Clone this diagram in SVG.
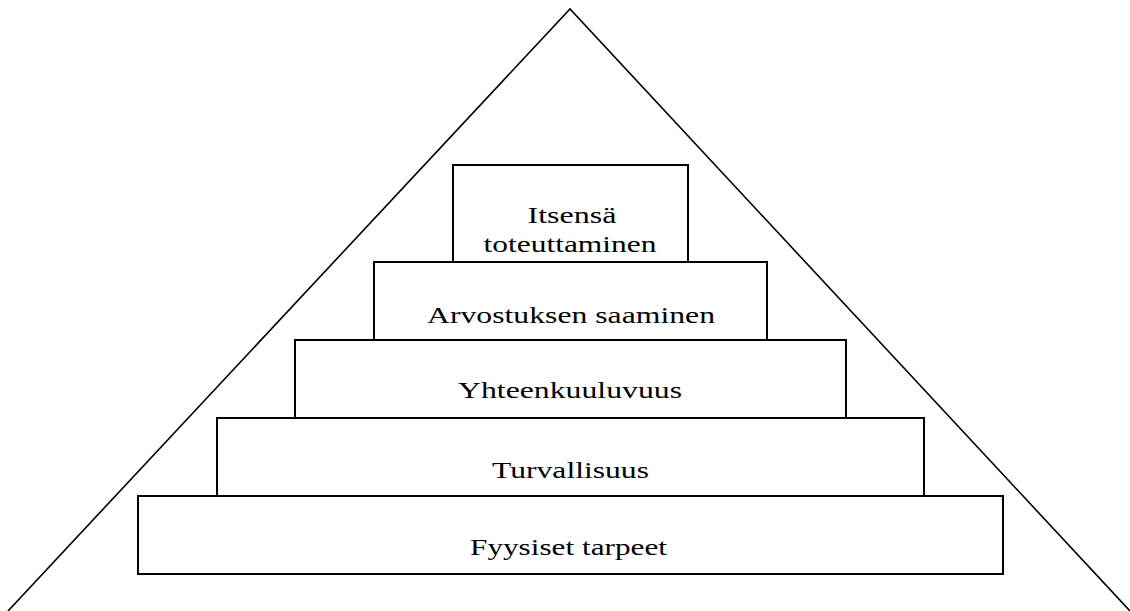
<svg xmlns="http://www.w3.org/2000/svg" width="1130" height="611" viewBox="0 0 1130 611">
<style>
.box{fill:#fff;stroke:#000;stroke-width:2}
.tri{fill:none;stroke:#000;stroke-width:1.6}
.lbl{font-family:"Liberation Serif","Times New Roman",serif;font-size:22.5px;fill:#000}
</style>
<rect width="1130" height="611" fill="#fff"/>
<g id="connectors">
<polyline class="tri" points="8,611 570,9 1130,611"/>
</g>
<g id="node-fyysiset">
<rect class="box" x="138" y="496" width="865" height="78"/>
<text class="lbl" x="470" y="555" textLength="197" lengthAdjust="spacingAndGlyphs">Fyysiset tarpeet</text>
</g>
<g id="node-turvallisuus">
<rect class="box" x="217" y="418" width="707" height="78"/>
<text class="lbl" x="492" y="478" textLength="157" lengthAdjust="spacingAndGlyphs">Turvallisuus</text>
</g>
<g id="node-yhteenkuuluvuus">
<rect class="box" x="295" y="340" width="551" height="78"/>
<text class="lbl" x="458" y="398" textLength="224" lengthAdjust="spacingAndGlyphs">Yhteenkuuluvuus</text>
</g>
<g id="node-arvostus">
<rect class="box" x="374" y="262" width="393" height="78"/>
<text class="lbl" x="427" y="323" textLength="288" lengthAdjust="spacingAndGlyphs">Arvostuksen saaminen</text>
</g>
<g id="node-itsensa">
<rect class="box" x="453" y="165" width="235" height="97"/>
<text class="lbl" x="527.5" y="223" textLength="89" lengthAdjust="spacingAndGlyphs">Itsensä</text>
<text class="lbl" x="483.5" y="252" textLength="173" lengthAdjust="spacingAndGlyphs">toteuttaminen</text>
</g>
</svg>
